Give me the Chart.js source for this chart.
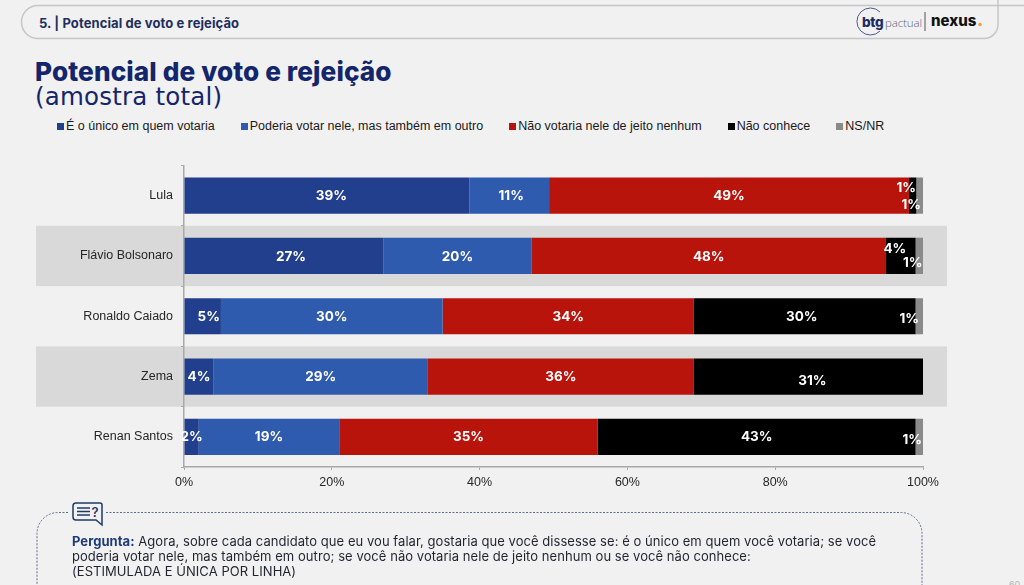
<!DOCTYPE html>
<html lang="pt-BR">

<head>
  <meta charset="UTF-8">
  <title>Potencial de voto e rejeição</title>
  <style>
    html, body { margin: 0; padding: 0; }
    body { width: 1024px; height: 585px; background: #f1f1f1; overflow: hidden; position: relative; font-family: 'Liberation Sans', sans-serif; }
    canvas, svg.deco { position: absolute; left: 0; top: 0; }
    .txt { position: absolute; white-space: nowrap; }
    .header { left: 39px; top: 14px; font: 700 13px/18px Inter, sans-serif; color: #1f2e5c; letter-spacing: .1px; }
    .title { left: 35px; top: 56px; font: 800 26.2px/32px Inter, sans-serif; color: #14266b; letter-spacing: .1px; }
    .subtitle { left: 35px; top: 82px; font: 400 24.5px/30px 'DejaVu Sans', sans-serif; color: #14266b; letter-spacing: .2px; }
    .legend { position: absolute; left: 57px; top: 118px; display: flex; gap: 26px; font-size: 12.5px; line-height: 16px; color: #1a1a1a; white-space: nowrap; }
    .legend i { display: inline-block; width: 7px; height: 7px; margin-right: 2px; }
    .question { left: 72px; top: 533.5px; font: 400 13px/15px Inter, sans-serif; color: #1f2430; letter-spacing: .05px; }
    .question b { color: #1f3a78; }
  </style>
</head>

<body>
  <svg class="deco" width="1024" height="585" viewBox="0 0 1024 585">
    <path d="M1024 5.5H38a16.500 16.500 0 0 0 0 33H984a14 14 0 0 0 14-14V0" fill="none" stroke="#c6c6c6" stroke-width="1.5" />
    <path d="M68 512.500H58a21 21 0 0 0-21 21V585" fill="none" stroke="#5d6b8c" stroke-width="1" stroke-dasharray="2 1.500" />
    <path d="M106 512.500H901a21 21 0 0 1 21 21V585" fill="none" stroke="#5d6b8c" stroke-width="1" stroke-dasharray="2 1.500" />
    <path d="M76 503H100a2 2 0 0 1 2 2V525L96 520H76a3 3 0 0 1-3-3V506a3 3 0 0 1 3-3Z" fill="#f1f1f1" stroke="#1f3a68" stroke-width="1.500" />
    <path d="M77 508H90M77 511.500H90M77 515H90" stroke="#1f3a68" stroke-width="1.300" />
    <text x="91.500" y="517" font-family="Inter" font-size="13" font-weight="600" fill="#1f3a68">?</text>
    <path d="M880 12A13.500 13.500 0 1 0 880 31" fill="none" stroke="#4a5a94" stroke-width="1" />
    <text x="862" y="26.500" font-family="Inter" font-size="13.500" font-weight="800" fill="#1c2a66" letter-spacing="-.3">btg</text>
    <text x="885" y="26.500" font-family="'Open Sans'" font-size="11.500" font-weight="300" fill="#5e6680" letter-spacing="-.1">pactual</text>
    <path d="M925 12V31" stroke="#555" stroke-width="1" />
    <text x="931" y="26" font-family="Inter" font-size="15" font-weight="800" fill="#111">nexus</text>
    <circle cx="980" cy="24.500" r="1.800" fill="#f2a03d" />
    <text x="1009" y="588" font-family="Inter" font-size="9" fill="#b5b5b5">60</text>
  </svg>

  <div class="txt header">5. | Potencial de voto e rejeição</div>
  <div class="txt title">Potencial de voto e rejeição</div>
  <div class="txt subtitle">(amostra total)</div>
  <div class="legend" id="legend"></div>
  <canvas id="chart" width="1024" height="585"></canvas>
  <div class="txt question"><b>Pergunta:</b> Agora, sobre cada candidato que eu vou falar, gostaria que você dissesse se: é o único em quem você votaria; se você<br>poderia votar nele, mas também em outro; se você não votaria nele de jeito nenhum ou se você não conhece:<br>(ESTIMULADA E ÚNICA POR LINHA)</div>

  <script src="https://cdn.jsdelivr.net/npm/chart.js"></script>
  <script>
    const candidates = ['Lula', 'Flávio Bolsonaro', 'Ronaldo Caiado', 'Zema', 'Renan Santos'];
    const seriesNames = ['É o único em quem votaria', 'Poderia votar nele, mas também em outro', 'Não votaria nele de jeito nenhum', 'Não conhece', 'NS/NR'];
    const unico = [38.6, 27, 5, 4, 2];
    const poderia = [10.8, 20, 30, 29, 19];
    const naoVotaria = [48.7, 48, 34, 36, 35];
    const naoConhece = [1, 4, 30, 31, 43];
    const nsNr = [0.9, 1, 1, 0, 1];
    const colors = ['#213f8d', '#2e5bae', '#b8140b', '#000000', '#8a8a8a'];

    // hand nudges for the labels that were moved in the original, "series,row": [dx, dy]
    const labelNudges = {
      '0,0': [4.5, 0], '1,0': [2, 0], '0,1': [7, 0], '0,2': [6, 0],
      '3,0': [-6.5, -8], '4,0': [-8.5, 8.5],
      '3,1': [-6, -7.5], '4,1': [-6.5, 6.5],
      '3,2': [-3, 0], '4,2': [-10, 2],
      '3,3': [4, 4],
      '4,4': [-7, 3]
    };

    const allValues = [unico, poderia, naoVotaria, naoConhece, nsNr];

    document.getElementById('legend').innerHTML = seriesNames.map((name, i) =>
      `<span><i style="background:${colors[i]}"></i>${name}</span>`).join('');

    // grey bands behind every other row
    const rowBands = {
      id: 'rowBands',
      beforeDraw(chart) {
        const y = chart.scales.y;
        const band = y.height / candidates.length;
        chart.ctx.save();
        chart.ctx.fillStyle = '#d9d9d9';
        candidates.forEach((c, i) => {
          if (i % 2 === 1) {
            chart.ctx.fillRect(36, y.getPixelForValue(i) - band / 2, 911, band);
          }
        });
        chart.ctx.restore();
      }
    };

    const barLabels = {
      id: 'barLabels',
      afterDatasetsDraw(chart) {
        const ctx = chart.ctx;
        ctx.save();
        ctx.font = '700 13.5px Inter';
        ctx.fillStyle = '#ffffff';
        ctx.textAlign = 'center';
        ctx.textBaseline = 'middle';
        chart.data.datasets.forEach((ds, s) => {
          chart.getDatasetMeta(s).data.forEach((bar, r) => {
            if (!ds.data[r]) return;
            const nudge = labelNudges[s + ',' + r] || [0, 0];
            const center = bar.getCenterPoint();
            ctx.fillText(Math.round(ds.data[r]) + '%', center.x + nudge[0], center.y + nudge[1] + 0.5);
          });
        });
        ctx.restore();
      }
    };

    new Chart(document.getElementById('chart'), {
      type: 'bar',
      plugins: [rowBands, barLabels],
      data: {
        labels: candidates,
        datasets: seriesNames.map((name, i) => ({
          label: name,
          data: allValues[i],
          backgroundColor: colors[i],
          categoryPercentage: 0.6,
          barPercentage: 1
        }))
      },
      options: {
        indexAxis: 'y',
        responsive: false,
        animation: false,
        layout: { padding: { top: 165.5, right: 101, left: 0, bottom: 0 } },
        plugins: { legend: { display: false }, tooltip: { enabled: false } },
        scales: {
          x: {
            stacked: true,
            min: 0,
            max: 100,
            afterFit(scale) { scale.height = 118; },
            grid: { drawOnChartArea: false, tickLength: 3, color: '#a9a9a9' },
            border: { color: '#a9a9a9', width: 1.5 },
            ticks: {
              stepSize: 20,
              padding: 5,
              maxRotation: 0,
              color: '#262626',
              font: { family: 'Liberation Sans', size: 12.5 },
              callback: v => v + '%'
            }
          },
          y: {
            stacked: true,
            afterFit(scale) { scale.width = 184; },
            grid: { drawOnChartArea: false, tickLength: 3, color: '#a9a9a9' },
            border: { color: '#a9a9a9', width: 1.5 },
            ticks: {
              padding: 8,
              color: '#262626',
              font: { family: 'Liberation Sans', size: 12.5 }
            }
          }
        }
      }
    });
  </script>
</body>

</html>
